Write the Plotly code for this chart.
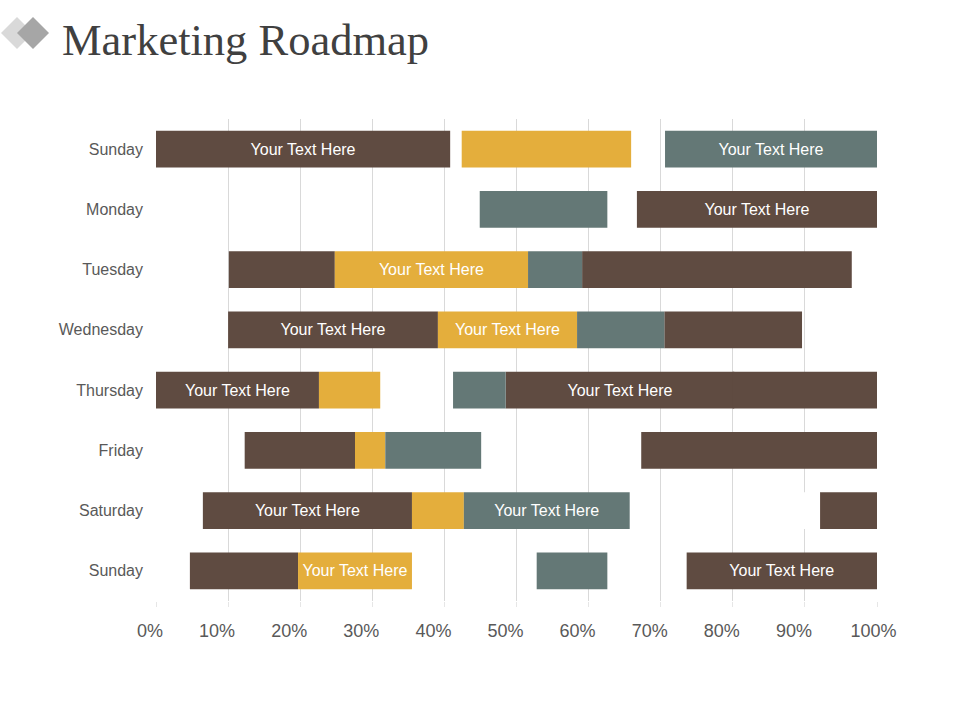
import plotly.graph_objects as go

title = "Marketing Roadmap"
days = ["Sunday", "Monday", "Tuesday", "Wednesday", "Thursday", "Friday", "Saturday", "Sunday"]
label = "Your Text Here"
x_ticks = [0, 10, 20, 30, 40, 50, 60, 70, 80, 90, 100]
x_tick_text = ["\u00a0\u00a00%", "10%", "20%", "30%", "40%", "50%", "60%", "70%", "80%", "90%", "\u00a0\u00a0\u00a0100%"]

brown_rows = [0, 1, 2, 2, 3, 3, 4, 4, 4, 5, 5, 6, 6, 7, 7]
brown_start = [0, 66.7, 10.1, 59.1, 10.0, 70.5, 0, 48.5, 80.0, 12.3, 67.3, 6.5, 92.1, 4.7, 73.6]
brown_end = [40.8, 100, 24.8, 96.5, 39.1, 89.6, 22.6, 80.2, 100, 27.6, 100, 35.5, 100, 19.7, 100]
brown_has_text = [1, 1, 0, 0, 1, 0, 1, 1, 0, 0, 0, 1, 0, 0, 1]

gold_rows = [0, 2, 3, 4, 5, 6, 7]
gold_start = [42.4, 24.8, 39.1, 22.6, 27.6, 35.5, 19.7]
gold_end = [65.9, 51.6, 58.4, 31.1, 31.8, 42.7, 35.5]
gold_has_text = [0, 1, 1, 0, 0, 0, 1]

teal_rows = [0, 1, 2, 3, 4, 5, 6, 7]
teal_start = [70.6, 44.9, 51.6, 58.4, 41.2, 31.8, 42.7, 52.8]
teal_end = [100, 62.6, 59.1, 70.5, 48.5, 45.1, 65.7, 62.6]
teal_has_text = [1, 0, 0, 0, 0, 0, 1, 0]

white_rows = [6]
white_start = [88.0]
white_end = [92.1]
white_has_text = [0]

BROWN, GOLD, TEAL = "#5f4b41", "#e4ae3c", "#647876"
W, H = 960, 720
L, R, T, B = 156, 877, 119, 601


def px(x):
    return (x - L) / (R - L)


def py(y):
    return (B - y) / (B - T)


def diamond(cx, cy, r, color):
    return dict(type="path", xref="paper", yref="paper", layer="above",
                path=f"M {px(cx-r)} {py(cy)} L {px(cx)} {py(cy-r)} L {px(cx+r)} {py(cy)} L {px(cx)} {py(cy+r)} Z",
                fillcolor=color, line=dict(width=0))


fig = go.Figure()
for rows, s, e, flags, color in [
    (brown_rows, brown_start, brown_end, brown_has_text, BROWN),
    (gold_rows, gold_start, gold_end, gold_has_text, GOLD),
    (teal_rows, teal_start, teal_end, teal_has_text, TEAL),
    (white_rows, white_start, white_end, white_has_text, "#ffffff"),
]:
    fig.add_trace(go.Bar(
        y=rows, base=s, x=[b - a for a, b in zip(s, e)], orientation="h", width=0.61,
        marker=dict(color=color, line=dict(width=0)),
        text=[label if f else "" for f in flags],
        textposition="inside", insidetextanchor="middle", textangle=0,
        constraintext="none", cliponaxis=True,
        textfont=dict(family="Liberation Sans", size=16, color="#ffffff"),
        showlegend=False, hoverinfo="skip",
    ))

fig.update_layout(
    width=W, height=H, barmode="overlay",
    margin=dict(l=L, r=W - R, t=T, b=H - B, pad=0),
    paper_bgcolor="white", plot_bgcolor="white",
    font=dict(family="Liberation Sans", color="#595959"),
    title=dict(text=title, x=62 / W, xref="container", xanchor="left", y=1 - 39 / H, yref="container", yanchor="middle",
               font=dict(family="Liberation Serif", size=44.5, color="#404040")),
    xaxis=dict(range=[0, 100], tickmode="array", tickvals=x_ticks, ticktext=x_tick_text,
               showgrid=True, gridcolor="#d9d9d9", gridwidth=1, zeroline=False, showline=False,
               ticks="outside", ticklen=5, tickcolor="#e6e6e6", tickwidth=1,
               ticklabelshift=-11, ticklabelstandoff=8,
               tickfont=dict(family="Liberation Sans", size=18, color="#595959"), fixedrange=True),
    yaxis=dict(range=[7.5, -0.5], tickmode="array", tickvals=list(range(len(days))), ticktext=days,
               showgrid=False, zeroline=False, showline=False, ticks="", ticklabelstandoff=12,
               tickfont=dict(family="Liberation Sans", size=16, color="#595959"), fixedrange=True),
    shapes=[diamond(17, 33, 16, "#d9d9d9"), diamond(33, 33, 16, "#a6a6a6")],
)
fig.write_html("out.html", config={"displayModeBar": False}, post_script="document.body.style.margin='0';")
